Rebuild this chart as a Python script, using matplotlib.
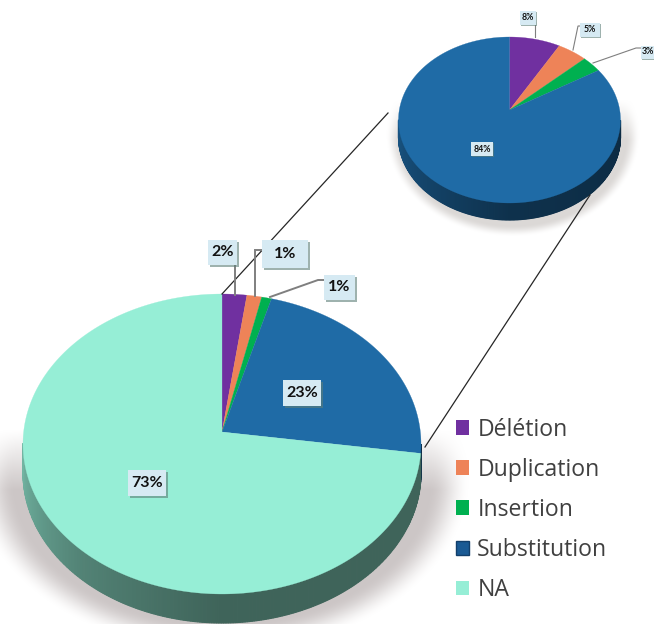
import numpy as np
import matplotlib
matplotlib.use("Agg")
import matplotlib.pyplot as plt
from matplotlib.patches import Patch, Rectangle
import matplotlib.patheffects as pe

categories = ["Délétion", "Duplication", "Insertion", "Substitution", "NA"]
main_values = [2.0, 1.2, 0.8, 22.0, 74.0]
main_labels = ["2%", "1%", "1%", "23%", "73%"]
zoom_categories = ["Délétion", "Duplication", "Insertion", "Substitution"]
zoom_values = [7.4, 4.4, 3.0, 85.2]
zoom_labels = ["8%", "5%", "3%", "84%"]
colors = ["#7030A0", "#EE8358", "#00B050", "#1F6BA6", "#96EED6"]

W, H = 654, 624
fig = plt.figure(figsize=(W / 100, H / 100), dpi=100)
ax = fig.add_axes([0, 0, 1, 1])
ax.set_xlim(0, W)
ax.set_ylim(H, 0)
ax.axis("off")


def shadow(cx, cy, rx, ry, soft, ytop, yfade, level, z):
    yy, xx = np.mgrid[0:H, 0:W] + 0.5
    d = np.sqrt(((xx - cx) / rx) ** 2 + ((yy - cy) / ry) ** 2)
    a = np.clip((1 + soft - d) / (2 * soft), 0, 1)
    a = a * a * (3 - 2 * a)
    f = np.clip((yy - ytop) / yfade, 0, 1)
    img = np.zeros((H, W, 4))
    img[..., :3] = level
    img[..., 3] = a * f
    ax.imshow(img, extent=(0, W, H, 0), zorder=z, aspect="auto", interpolation="bilinear")


def pie3d(values, cols, cx, cy, vy, rx, ry, depth, z, shade):
    total = sum(values)
    edges = np.concatenate([[0], np.cumsum(values)]) / total * 2 * np.pi
    # side wall
    for i, col in enumerate(cols):
        a0, a1 = edges[i], edges[i + 1]
        lo, hi = max(a0, np.pi / 2), min(a1, 3 * np.pi / 2)
        if hi <= lo:
            continue
        ts = np.arange(lo, hi + 0.01, 0.012)
        rgb = np.array(matplotlib.colors.to_rgb(col))
        for t0, t1 in zip(ts[:-1], ts[1:]):
            xs = cx + rx * np.sin([t0, t1, t1, t0])
            yt = cy - ry * np.cos([t0, t1])
            ys = [yt[0], yt[1], yt[1] + depth, yt[0] + depth]
            u = (t0 - np.pi / 2) / np.pi  # 0 right, 1 left
            k = np.interp(u, [0, 0.5, 0.75, 1], shade)
            ax.fill(xs, ys, fc=rgb * k, ec=rgb * k, lw=0.8, zorder=z)
    # top faces
    for i, col in enumerate(cols):
        ts = np.linspace(edges[i], edges[i + 1], 200)
        xs = np.r_[cx, cx + rx * np.sin(ts)]
        ys = np.r_[vy, cy - ry * np.cos(ts)]
        ax.fill(xs, ys, color=col, lw=0.2, zorder=z + 1)


shadow(222, 478, 228, 160, 0.09, 430, 60, (0.80, 0.78, 0.78), 1)
shadow(513, 134, 120, 97, 0.06, 100, 40, (0.86, 0.85, 0.84), 1)

pie3d(main_values, colors, 222, 444, 432, 199, 150, 29, 3, [0.42, 0.42, 0.55, 0.76])
pie3d(zoom_values, colors[:4], 509.5, 120, 110, 111, 83, 17, 3, [0.40, 0.46, 0.62, 0.78])

# connector lines between the two pies
ax.plot([222, 388], [294, 113], color="#262626", lw=0.9, zorder=6)
ax.plot([425, 590], [447, 195], color="#262626", lw=0.9, zorder=6)

# leader lines
lead = dict(color="#7F7F7F", lw=1.4, zorder=6, solid_joinstyle="miter")
ax.plot([235, 235], [295, 262], **lead)
ax.plot([255, 255, 264], [296, 250, 250], **lead)
ax.plot([270, 318, 326], [297, 280, 280], **lead)
lead["lw"] = 0.8
ax.plot([535, 535], [37, 22], **lead)
ax.plot([573, 578, 584], [50, 26, 26], **lead)
ax.plot([593, 636, 642], [63, 48, 48], **lead)


def label(x, y, s, size, w, h, off):
    r = Rectangle((x - w / 2, y - h / 2), w, h, fc="#D6EAF3", ec="none", zorder=7)
    r.set_path_effects([
        pe.SimplePatchShadow(offset=(off, -off), shadow_rgbFace="#5E7F78", alpha=0.6),
        pe.Normal()])
    ax.add_patch(r)
    ax.text(x, y, s, ha="center", va="center", fontsize=size, fontweight="bold",
            family="Lato", color="#111111", zorder=8)


main_pos = [(222.5, 252.5), (285, 254), (339.5, 287), (302, 393), (147, 483)]
main_box = [(29, 25), (46, 28), (31, 25), (38, 26), (38, 26)]
for (x, y), (w, h), s in zip(main_pos, main_box, main_labels):
    label(x, y, s, 11.5, w, h, 1.5)
zoom_pos = [(528, 18), (590, 30), (648, 52), (482, 149)]
zoom_box = [(16, 14), (20, 14), (15, 13), (22, 14)]
for (x, y), (w, h), s in zip(zoom_pos, zoom_box, zoom_labels):
    label(x, y, s, 6.3, w, h, 1)

handles = [Patch(fc=c, ec="none") for c in colors]
handles[3] = Patch(fc="#1A5A94", ec="#123F6B", lw=1)
leg = ax.legend(handles, categories, loc="upper left", bbox_to_anchor=(451 / W, 1 - 413 / H),
                frameon=False, prop=dict(family="Open Sans", size=16.6), labelcolor="#404040",
                handlelength=0.6, handleheight=0.6, handletextpad=0.34,
                labelspacing=0.70, borderpad=0.2, borderaxespad=0)
leg.set_zorder(9)

fig.savefig("out.png", dpi=100)
